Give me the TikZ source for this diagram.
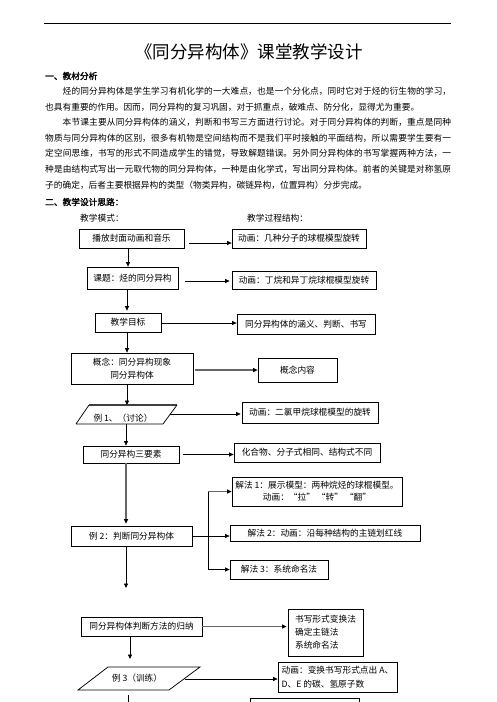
\documentclass[tikz,border=0pt]{standalone}
\usepackage{fontspec}
\setmainfont{Noto Sans CJK SC}
\newfontfamily\cjkb{Noto Sans CJK SC}[FakeBold=2]
\XeTeXlinebreaklocale "zh"
\XeTeXlinebreakskip=0pt plus 1pt
\usetikzlibrary{arrows.meta}
\newcommand\fs{\fontsize{8.7}{13}\selectfont}
\newcommand\jl[1]{\parbox[t]{406pt}{\parfillskip=0pt\relax #1}}
\begin{document}
\begin{tikzpicture}[x=1pt,y=-1pt,
  box/.style={draw, line width=0.75pt, inner sep=0pt, align=center, font=\fs},
  txt/.style={inner sep=0pt, anchor=base west, font=\fs},
  arr/.style={-{Triangle[length=4.5pt,width=4pt]}, line width=0.75pt},
  garr/.style={-{Triangle[length=4.5pt,width=4pt,color=black]}, line width=1.3pt, draw=black!60},
  ln/.style={line width=0.75pt}]
\useasboundingbox (0,0) rectangle (496,702);
\fill[white] (0,0) rectangle (496,702);
\draw[line width=0.8pt] (44,23) -- (451,23);
\node[inner sep=0pt, font=\fontsize{17.5}{20}\selectfont] (title) at (249,52) {《同分异构体》课堂教学设计};
\node[txt, font=\fs\cjkb] (h1) at (45,79.3) {一、教材分析};
\node[txt] (l1) at (45,94.3) {\jl{\hspace*{17.5pt}烃的同分异构体是学生学习有机化学的一大难点，也是一个分化点，同时它对于烃的衍生物的学习，}};
\node[txt] (l2) at (45,110.3) {也具有重要的作用。因而，同分异构的复习巩固，对于抓重点，破难点、防分化，显得尤为重要。};
\node[txt] (l3) at (45,125.8) {\jl{\hspace*{17.5pt}本节课主要从同分异构体的涵义，判断和书写三方面进行讨论。对于同分异构体的判断，重点是同种}};
\node[txt] (l4) at (45,141.3) {\jl{物质与同分异构体的区别，很多有机物是空间结构而不是我们平时接触的平面结构，所以需要学生要有一}};
\node[txt] (l5) at (45,156.8) {\jl{定空间思维，书写的形式不同造成学生的错觉，导致解题错误。另外同分异构体的书写掌握两种方法，一}};
\node[txt] (l6) at (45,172.3) {\jl{种是由结构式写出一元取代物的同分异构体，一种是由化学式，写出同分异构体。前者的关键是对称氢原}};
\node[txt] (l7) at (45,188.3) {子的确定，后者主要根据异构的类型（物类异构，碳链异构，位置异构）分步完成。};
\node[txt, font=\fs\cjkb] (h2) at (45,205.3) {二、教学设计思路：};
\node[txt] (m1) at (80,221.3) {教学模式：};
\node[txt] (m2) at (247,221.3) {教学过程结构：};
% left column
\node[box, minimum width=105pt, minimum height=19pt] (B1) at (131.5,238.5) {播放封面动画和音乐};
\node[box, minimum width=91pt, minimum height=22pt] (B2) at (132.5,278) {课题：烃的同分异构};
\node[box, minimum width=66pt, minimum height=19pt] (B3) at (128,322.5) {教学目标};
\node[box, minimum width=122pt, minimum height=31pt] (B4) at (132,368.5) {概念：同分异构现象\\同分异构体};
\node[inner sep=0pt, font=\fs] (P1) at (123,418) {例 1、（讨论）};
\node[box, minimum width=96pt, minimum height=17pt] (B6) at (131,454.5) {同分异构三要素};
\node[box, minimum width=121pt, minimum height=20pt] (B7) at (131.5,536) {例 2：判断同分异构体};
\node[box, minimum width=121pt, minimum height=19pt] (B10) at (141.5,626.5) {同分异构体判断方法的归纳};
\node[inner sep=0pt, font=\fs] (P2) at (137,678) {例 3（训练）};
% right column
\node[box, minimum width=134pt, minimum height=19pt] (R1) at (299,238.5) {动画：几种分子的球棍模型旋转};
\node[box, minimum width=144pt, minimum height=18pt] (R2) at (304,280) {动画：丁烷和异丁烷球棍模型旋转};
\node[box, minimum width=138pt, minimum height=20pt] (R3) at (306,324) {同分异构体的涵义、判断、书写};
\node[box, minimum width=79pt, minimum height=24pt] (R4) at (297.5,370) {概念内容};
\node[box, minimum width=136pt, minimum height=21pt] (R5) at (310,412.5) {动画：二氯甲烷球棍模型的旋转};
\node[box, minimum width=146pt, minimum height=19pt] (R6) at (307,452.5) {化合物、分子式相同、结构式不同};
\node[box, minimum width=170pt, minimum height=29pt, font=\fontsize{8.7}{12}\selectfont] (R7) at (317,491.5) {解法 1：展示模型：两种烷烃的球棍模型。\\动画：“拉” “转” “翻”};
\node[box, minimum width=190pt, minimum height=16pt] (R8) at (325,533) {解法 2：动画：沿每种结构的主链划红线};
\node[box, minimum width=98pt, minimum height=19pt] (R9) at (279,569.5) {解法 3：系统命名法};
\node[box, minimum width=75pt, minimum height=47pt, align=left] (R10) at (325.5,632.5) {书写形式变换法\\确定主链法\\系统命名法};
\node[box, minimum width=119pt, minimum height=30pt, align=left, font=\fontsize{8.7}{14}\selectfont] (R11) at (337.5,677) {动画：变换书写形式点出 A、\\D、E 的碳、氢原子数};
\node[box, minimum width=109pt, minimum height=16pt] (B12) at (304.5,706) {};
% parallelograms
\draw[ln] ([shift={(-47,6)}]P1.center) -- ([shift={(-34,-13)}]P1.center);
\draw[line width=1.2pt, black!75] ([shift={(-34,-13)}]P1.center) -- ([shift={(54,-13)}]P1.center);
\draw[ln] ([shift={(54,-13)}]P1.center) -- ([shift={(40,6)}]P1.center) -- ([shift={(-47,6)}]P1.center);
\draw[ln] ([shift={(-29,-11)}]P2.center) -- ([shift={(63,-11)}]P2.center) -- ([shift={(32,12)}]P2.center) -- ([shift={(-59,12)}]P2.center) -- cycle;
% vertical connectors
\draw[arr] ([xshift=-3.5pt]B1.south) -- ([xshift=-4.5pt]B2.north);
\draw[arr] ([xshift=-5.5pt]B2.south) -- ([xshift=-1pt,yshift=2pt]B3.north);
\draw[arr] ([xshift=-1pt]B3.south) -- ([xshift=-5pt]B4.north);
\draw[arr] ([xshift=-5pt]B4.south) -- ([shift={(4,-13)}]P1.center);
\draw[arr] ([shift={(3,6)}]P1.center) -- ([xshift=-5pt]B6.north);
\draw[garr] ([xshift=-5pt]B6.south) -- ([xshift=-5.5pt,yshift=2pt]B7.north);
\coordinate (e7) at (126,588);
\draw[arr] ([xshift=-5.5pt]B7.south) -- (e7);
\draw[arr] ([xshift=-11.5pt]B10.south) -- ([shift={(-7,-19)}]P2.center);
\coordinate (e9) at (128,706);
\draw[ln] ([shift={(-9,17)}]P2.center) -- (e9);
% horizontal connectors
\draw[arr] ([xshift=5pt,yshift=-4.5pt]B1.east) -- ([yshift=-4.5pt]R1.west);
\draw[arr] ([xshift=7pt,yshift=-3pt]B2.east) -- ([xshift=-2pt,yshift=-1pt]R2.west);
\draw[arr] ([yshift=-0.5pt]B3.east) -- ([yshift=1pt]R3.west);
\draw[garr] ([xshift=2pt,yshift=-1.5pt]B4.east) -- (R4.west);
\draw[arr] ([shift={(47,-4)}]P1.center) -- ([xshift=-1pt,yshift=-1.5pt]R5.west);
\draw[arr] ([xshift=4pt]B6.east) -- ([yshift=-2pt]R6.west);
\draw[arr] ([xshift=1pt]B7.east) -- ([yshift=-3pt]R8.west);
\coordinate (bt) at (208,491.5);
\coordinate (bb) at (208,569.5);
\draw[ln] (bt) -- (bb);
\draw[garr] (bt) -- (R7.west);
\draw[arr] (bb) -- (R9.west);
\draw[garr] (B10.east) -- ([xshift=-1pt,yshift=6pt]R10.west);
\draw[arr] ([shift={(47.5,1)}]P2.center) -- ([yshift=-2pt]R11.west);
\end{tikzpicture}
\end{document}
